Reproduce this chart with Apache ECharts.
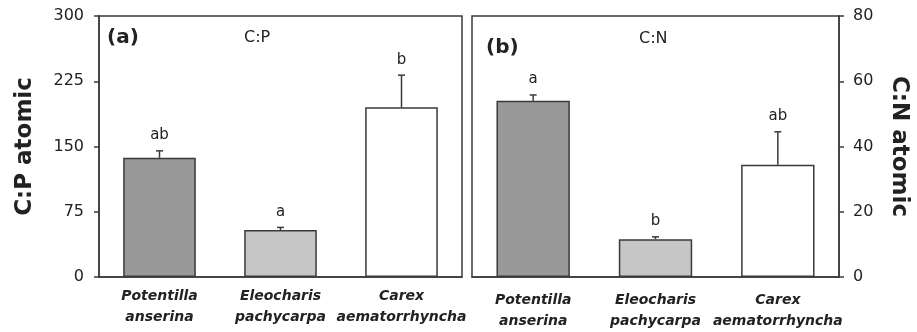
<!DOCTYPE html>
<html>
<head>
<meta charset="utf-8">
<script src="https://cdn.jsdelivr.net/npm/echarts@6/dist/echarts.min.js"></script>
<style>
  html, body { margin: 0; padding: 0; background: #fff; }
  #chart { width: 917px; height: 332px; }
</style>
</head>
<body>
<div id="chart"></div>
<script>
// Species on the x axis (two-line labels)
const species = ['Potentilla\nanserina', 'Eleocharis\npachycarpa', 'Carex\naematorrhyncha'];
const barColors = ['#999999', '#c6c6c6', '#ffffff'];

// Panel (a): C:P atomic ratio, mean + SE and significance letters
const cpMean = [137, 54, 195];
const cpErr = [8, 3, 37];
const cpLetters = ['ab', 'a', 'b'];
const cpTicks = { min: 0, max: 300, interval: 75 };

// Panel (b): C:N atomic ratio, mean + SE and significance letters
const cnMean = [54, 11.6, 34.4];
const cnErr = [1.8, 0.7, 10.1];
const cnLetters = ['a', 'b', 'ab'];
const cnTicks = { min: 0, max: 80, interval: 20 };

const ink = '#222';
const frame = '#3a3a3a';
const tickFont = 'DejaVu Sans';

function barData(means) {
  return means.map((v, i) => ({
    value: v,
    itemStyle: { color: barColors[i], borderColor: frame, borderWidth: 1.5 }
  }));
}

function errorSeries(axisIdx, means, errs, letters) {
  return {
    type: 'custom',
    xAxisIndex: axisIdx,
    yAxisIndex: axisIdx,
    z: 5,
    data: means.map((m, i) => [i, m, m + errs[i]]),
    renderItem: function (params, api) {
      const base = api.coord([api.value(0), api.value(1)]);
      const top = api.coord([api.value(0), api.value(2)]);
      const cap = 3.5;
      return {
        type: 'group',
        children: [
          { type: 'line', shape: { x1: base[0], y1: base[1], x2: top[0], y2: top[1] },
            style: { stroke: frame, lineWidth: 1.5 } },
          { type: 'line', shape: { x1: top[0] - cap, y1: top[1], x2: top[0] + cap, y2: top[1] },
            style: { stroke: frame, lineWidth: 1.5 } },
          { type: 'text',
            style: { text: letters[params.dataIndex], x: top[0], y: top[1] - 8,
                     align: 'center', verticalAlign: 'bottom',
                     fontFamily: tickFont, fontSize: 15, fill: ink } }
        ]
      };
    }
  };
}

const catLabel = {
  fontFamily: 'DejaVu Sans',
  fontStyle: 'italic',
  fontWeight: 'bold',
  fontSize: 14,
  lineHeight: 21,
  color: ink,
  interval: 0
};

const chart = echarts.init(document.getElementById('chart'), null, { renderer: 'canvas' });

chart.setOption({
  animation: false,
  backgroundColor: '#fff',
  title: [
    { text: '(a)', left: 102, top: 23, textStyle: { fontFamily: 'DejaVu Sans', fontWeight: 'bold', fontSize: 20, color: ink } },
    { text: 'C:P', left: 239, top: 25, textStyle: { fontFamily: 'DejaVu Sans', fontWeight: 'normal', fontSize: 16, color: ink } },
    { text: '(b)', left: 481, top: 33, textStyle: { fontFamily: 'DejaVu Sans', fontWeight: 'bold', fontSize: 20, color: ink } },
    { text: 'C:N', left: 634, top: 26, textStyle: { fontFamily: 'DejaVu Sans', fontWeight: 'normal', fontSize: 16, color: ink } }
  ],
  grid: [
    { left: 99, top: 16, width: 363, height: 261, show: true, borderColor: frame, borderWidth: 1.5, backgroundColor: 'transparent' },
    { left: 472, top: 16, width: 367, height: 261, show: true, borderColor: frame, borderWidth: 1.5, backgroundColor: 'transparent' }
  ],
  xAxis: [
    { type: 'category', gridIndex: 0, data: species,
      axisLine: { lineStyle: { color: frame, width: 1.5 } },
      axisTick: { alignWithLabel: true, length: 5, lineStyle: { color: frame, width: 1.5 } },
      axisLabel: Object.assign({ margin: 9 }, catLabel) },
    { type: 'category', gridIndex: 1, data: species,
      axisLine: { lineStyle: { color: frame, width: 1.5 } },
      axisTick: { alignWithLabel: true, length: 5, lineStyle: { color: frame, width: 1.5 } },
      axisLabel: Object.assign({ margin: 13 }, catLabel) }
  ],
  yAxis: [
    { type: 'value', gridIndex: 0, position: 'left',
      min: cpTicks.min, max: cpTicks.max, interval: cpTicks.interval,
      name: 'C:P atomic', nameLocation: 'middle', nameGap: 62,
      nameTextStyle: { fontFamily: 'DejaVu Sans', fontWeight: 'bold', fontSize: 23, color: ink },
      axisLine: { show: true, lineStyle: { color: frame, width: 1.5 } },
      axisTick: { show: true, length: 5, lineStyle: { color: frame, width: 1.5 } },
      axisLabel: { margin: 15, fontFamily: tickFont, fontSize: 16, color: ink },
      splitLine: { show: false } },
    { type: 'value', gridIndex: 1, position: 'right',
      min: cnTicks.min, max: cnTicks.max, interval: cnTicks.interval,
      name: 'C:N atomic', nameLocation: 'middle', nameGap: 48, nameRotate: -90,
      nameTextStyle: { fontFamily: 'DejaVu Sans', fontWeight: 'bold', fontSize: 23, color: ink },
      axisLine: { show: true, lineStyle: { color: frame, width: 1.5 } },
      axisTick: { show: true, length: 5, lineStyle: { color: frame, width: 1.5 } },
      axisLabel: { margin: 14, fontFamily: tickFont, fontSize: 16, color: ink },
      splitLine: { show: false } }
  ],
  series: [
    { type: 'bar', xAxisIndex: 0, yAxisIndex: 0, barWidth: '60%', data: barData(cpMean) },
    errorSeries(0, cpMean, cpErr, cpLetters),
    { type: 'bar', xAxisIndex: 1, yAxisIndex: 1, barWidth: '60%', data: barData(cnMean) },
    errorSeries(1, cnMean, cnErr, cnLetters)
  ]
});
</script>
</body>
</html>
